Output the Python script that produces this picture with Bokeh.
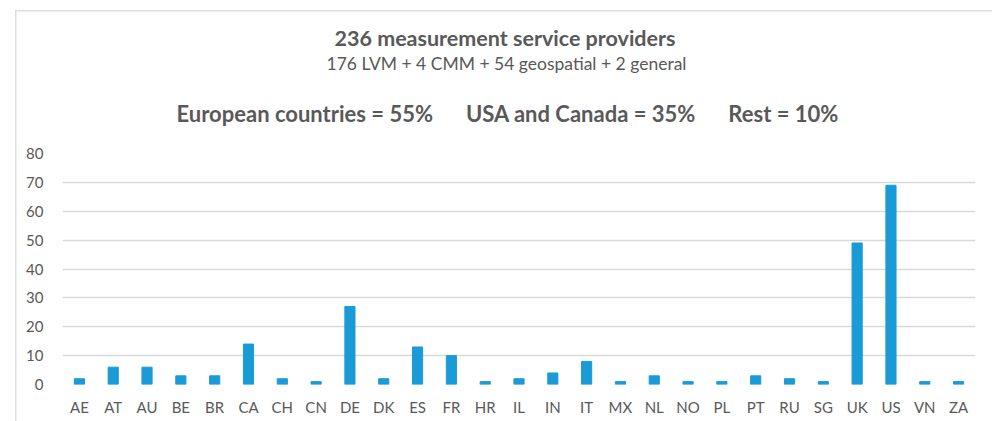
from bokeh.plotting import figure
from bokeh.models import Title, FixedTicker
from bokeh.embed import file_html
from bokeh.resources import INLINE

countries = ["AE", "AT", "AU", "BE", "BR", "CA", "CH", "CN", "DE", "DK", "ES", "FR", "HR", "IL",
             "IN", "IT", "MX", "NL", "NO", "PL", "PT", "RU", "SG", "UK", "US", "VN", "ZA"]
providers = [2, 6, 6, 3, 3, 14, 2, 1, 27, 2, 13, 10, 1, 2,
             4, 8, 1, 3, 1, 1, 3, 2, 1, 49, 69, 1, 1]
y_ticks = [0, 10, 20, 30, 40, 50, 60, 70, 80]

title_text = "236 measurement service providers"
subtitle_text = "176 LVM + 4 CMM + 54 geospatial + 2 general"
share_text = "European countries = 55%\u2003\u2003USA and Canada = 35%\u2003\u2003Rest = 10%"

FONT = "Lato"
TXT = "#595959"
GRID = "#d9d9d9"
BAR = "#1a9bd7"
FRAME_LINE = "#dedede"

p = figure(x_range=countries, y_range=(0, 80), width=992, height=421,
           output_backend="svg", toolbar_location=None,
           min_border_left=62, min_border_right=17, min_border_bottom=37, min_border_top=153)

p.vbar(x=countries, top=providers, width=0.3, color=BAR)

p.x_range.range_padding = 0
p.xgrid.grid_line_color = None
p.ygrid.grid_line_color = GRID
p.ygrid.grid_line_width = 1.3
p.yaxis.ticker = FixedTicker(ticks=y_ticks)
for ax in (p.xaxis, p.yaxis):
    ax.axis_line_color = None
    ax.major_tick_line_color = None
    ax.minor_tick_line_color = None
    ax.major_label_text_font = FONT
    ax.major_label_text_color = TXT
    ax.major_label_text_font_size = "15px"
p.xaxis.major_label_standoff = 7
p.yaxis.major_label_standoff = 13
p.outline_line_color = None


def spacer(gap):
    p.add_layout(Title(text=" ", text_font_size="1px", standoff=gap), "above")


def heading(txt, size, bold, offset):
    p.add_layout(Title(text=txt, align="left", offset=offset, standoff=0, text_font=FONT,
                       text_font_size=size, text_font_style="bold" if bold else "normal",
                       text_color=TXT), "above")


spacer(24)
heading(share_text, "22px", True, 114)
spacer(21)
heading(subtitle_text, "17.5px", False, 264)
heading(title_text, "21.5px", True, 272)

# faint chart-area border (top and left edges visible) drawn behind a transparent canvas border
p.border_fill_alpha = 0
p.background_fill_color = "white"
p.styles = {
    "background-color": "white",
    "background-image": f"linear-gradient({FRAME_LINE}, {FRAME_LINE}), linear-gradient({FRAME_LINE}, {FRAME_LINE})",
    "background-size": "1.5px 420px, 990px 1.5px",
    "background-position": "15px 10px, 15px 10px",
    "background-repeat": "no-repeat",
}

open("out.html", "w").write(file_html(p, INLINE))
